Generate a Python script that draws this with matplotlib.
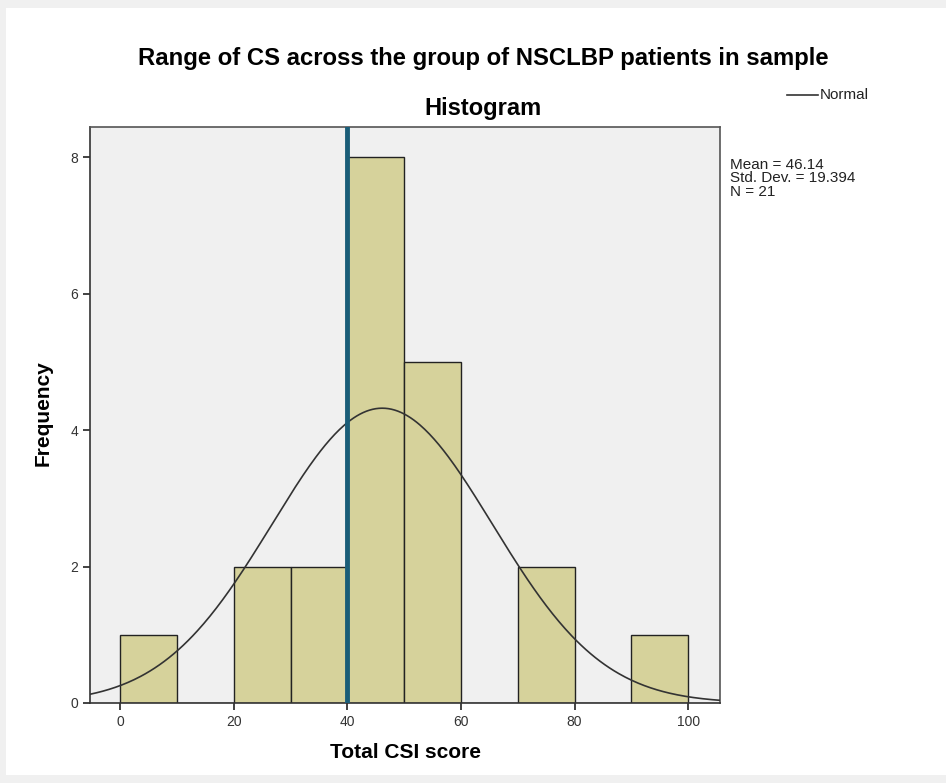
import numpy as np
import matplotlib
matplotlib.use("Agg")
import matplotlib.pyplot as plt
from matplotlib.patches import Rectangle

plt.rcParams['font.family'] = ['Liberation Sans', 'DejaVu Sans']

bin_edges = [0, 10, 20, 30, 40, 50, 60, 70, 80, 90, 100]
counts = [1, 0, 2, 2, 8, 5, 0, 2, 0, 1]
mean_val = 46.14
sd_val = 19.394
n_val = 21
ref_line_x = 40
xticks = [0, 20, 40, 60, 80, 100]
yticks = [0, 2, 4, 6, 8]

fig = plt.figure(figsize=(9.46, 7.83), dpi=100)
fig.patch.set_facecolor('#f0f0f0')
bg = Rectangle((6/946, 8/783), 1 - 6/946, 1 - 16/783, transform=fig.transFigure,
               facecolor='white', edgecolor='none', zorder=-10)
fig.patches.append(bg)

ax = fig.add_axes([90/946, 1 - 703/783, 630/946, 576/783])
ax.set_facecolor('#f0f0f0')

widths = np.diff(bin_edges)
ax.bar(bin_edges[:-1], counts, width=widths, align='edge', color='#d6d29b',
       edgecolor='#222222', linewidth=1.0, zorder=2)

xlo, xhi = -5.3, 105.6
xs = np.linspace(xlo, xhi, 400)
scale = n_val * widths[0]
ys = scale / (sd_val * np.sqrt(2 * np.pi)) * np.exp(-0.5 * ((xs - mean_val) / sd_val) ** 2)
ax.plot(xs, ys, color='#333333', linewidth=1.2, zorder=4)
ax.axvline(ref_line_x, color='#1a5d78', linewidth=3.5, zorder=5)

ax.set_xlim(xlo, xhi)
ax.set_ylim(0, 8.44)
ax.set_xticks(xticks)
ax.set_yticks(yticks)
ax.tick_params(direction='out', length=5, width=1.2, colors='#222222', labelsize=10,
               labelcolor='#333333')
for name, s in ax.spines.items():
    s.set_color('#333333' if name in ('left', 'bottom') else '#555555')
    s.set_linewidth(1.2)

fig.text(405/946, 1 - 752/783, 'Total CSI score', ha='center', va='center',
         fontsize=15, fontweight='bold')
fig.text(43/946, 1 - 413/783, 'Frequency', ha='center', va='center', rotation=90,
         fontsize=15, fontweight='bold')

fig.text(483/946, 1 - 58/783, 'Range of CS across the group of NSCLBP patients in sample',
         ha='center', va='center', fontsize=17.2, fontweight='bold')
fig.text(483/946, 1 - 109/783, 'Histogram', ha='center', va='center', fontsize=17, fontweight='bold')

fig.text(730/946, 1 - 158/783, 'Mean = 46.14\nStd. Dev. = 19.394\nN = 21', ha='left', va='top',
         fontsize=11, linespacing=0.95, color='#222222')

fig.lines.append(plt.Line2D([787/946, 818/946], [1 - 95/783, 1 - 95/783], transform=fig.transFigure,
                            color='#333333', linewidth=1.2))
fig.text(820/946, 1 - 95/783, 'Normal', ha='left', va='center', fontsize=11, color='#222222')

fig.savefig('out.png', dpi=100, facecolor=fig.get_facecolor())
